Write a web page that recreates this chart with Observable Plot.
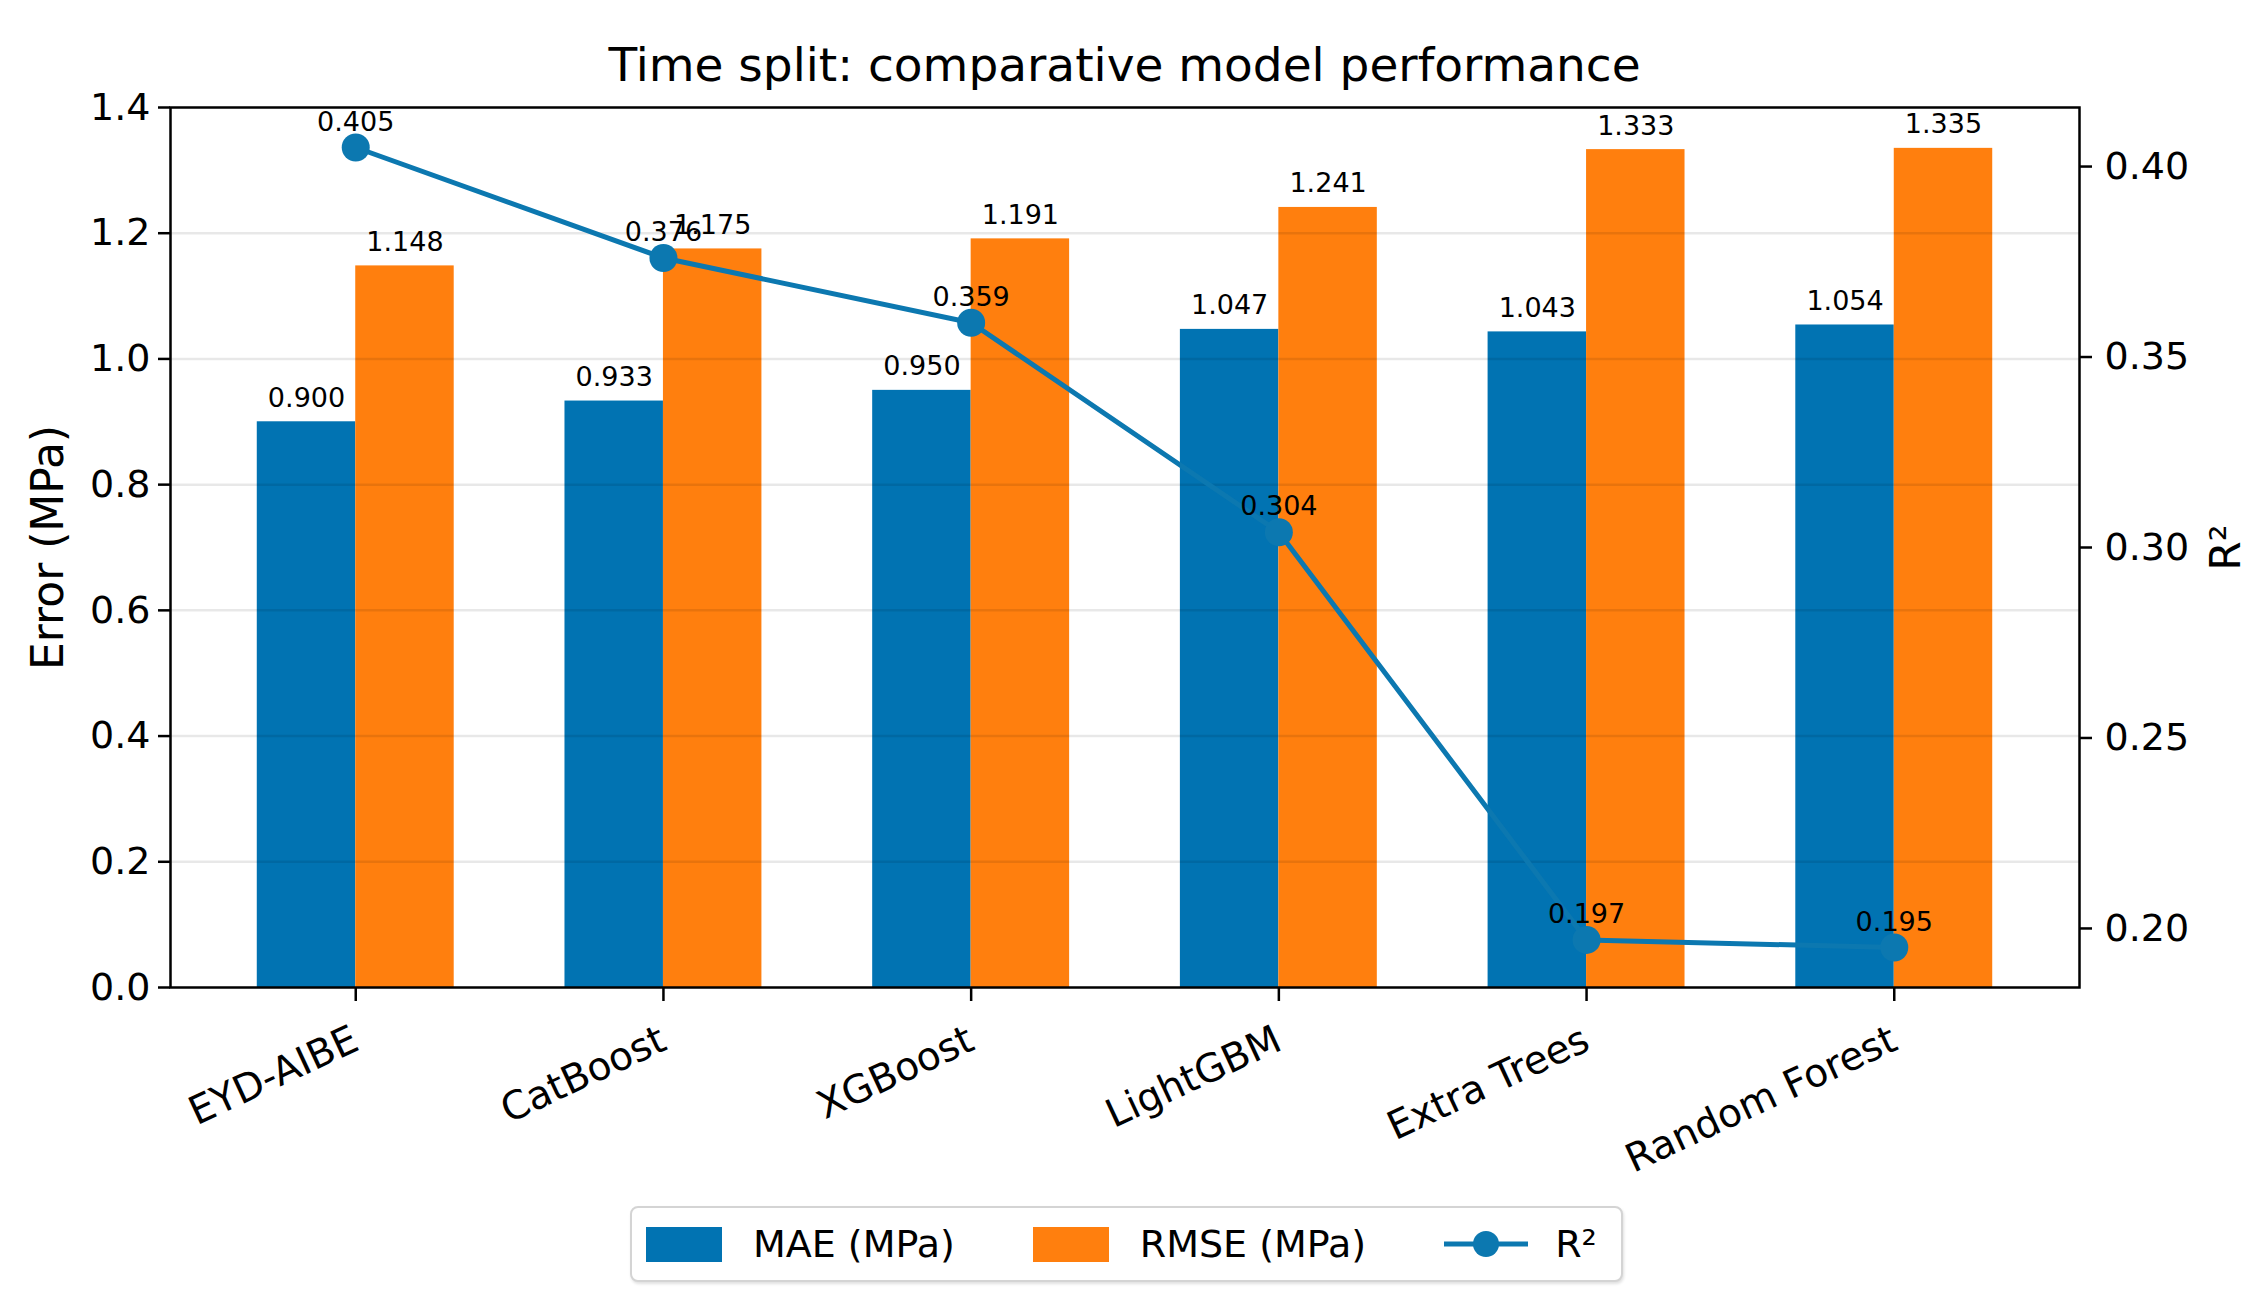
<!DOCTYPE html>
<html>
<head>
<meta charset="utf-8">
<script src="https://cdn.jsdelivr.net/npm/d3@7"></script>
<script src="https://cdn.jsdelivr.net/npm/@observablehq/plot@0.6"></script>
<style>
  html, body { margin: 0; padding: 0; background: #fff; }
  #wrap { position: relative; width: 2262px; height: 1312px; font-family: "DejaVu Sans", sans-serif; color: #000; }
  #title { position: absolute; left: 170px; width: 1909px; top: 41px; font-size: 47px; line-height: 1; text-align: center; white-space: nowrap; }
  #chart { position: absolute; left: 0; top: 90px; }
  #legend { position: absolute; left: 630px; top: 1206px; width: 993px; height: 76px; box-sizing: border-box;
            border: 2px solid #d4d4d4; border-radius: 8px; box-shadow: 1px 2px 3px rgba(0,0,0,0.12);
            display: flex; align-items: center; padding-left: 14px; font-size: 38px; background: #fff; }
  .item { display: flex; align-items: center; }
  .sw { width: 76px; height: 35px; margin-right: 31px; }
  .gap { width: 78px; }
</style>
</head>
<body>
<div id="wrap">
  <div id="title">Time split: comparative model performance</div>
  <div id="chart"></div>
  <div id="legend"></div>
</div>
<script>
// ---- data ----
const models = ["EYD-AIBE", "CatBoost", "XGBoost", "LightGBM", "Extra Trees", "Random Forest"];
const mae = [0.900, 0.933, 0.950, 1.047, 1.043, 1.054];
const rmse = [1.148, 1.175, 1.191, 1.241, 1.333, 1.335];
const r2 = [0.405, 0.376, 0.359, 0.304, 0.197, 0.195];
const errorTicks = [0.0, 0.2, 0.4, 0.6, 0.8, 1.0, 1.2, 1.4];
const r2Ticks = [0.20, 0.25, 0.30, 0.35, 0.40];
const seriesNames = ["MAE (MPa)", "RMSE (MPa)", "R\u00b2"];
const yLabelLeft = "Error (MPa)";

// ---- style ----
const MAE_C = "#0173b2", RMSE_C = "#ff7f0e", LINE_C = "#0c78b0";
const barW = 0.32;
const errDomain = [0, 1.4];
const r2Domain = [0.1845, 0.4155];
const toLeft = r => (r - r2Domain[0]) / (r2Domain[1] - r2Domain[0]) * (errDomain[1] - errDomain[0]) + errDomain[0];
const fromLeft = v => (v - errDomain[0]) / (errDomain[1] - errDomain[0]) * (r2Domain[1] - r2Domain[0]) + r2Domain[0];

const rows = models.map((m, i) => ({i, m, mae: mae[i], rmse: rmse[i], r2: r2[i]}));

const chart = Plot.plot({
  width: 2262, height: 1095,
  marginLeft: 170, marginRight: 183, marginTop: 17, marginBottom: 198,
  style: {fontFamily: "DejaVu Sans", fontSize: "38px", color: "#000", background: "#fff", overflow: "visible"},
  x: {domain: [-0.602, 5.602]},
  y: {domain: errDomain},
  marks: [
    Plot.rectY(rows, {x1: d => d.i - barW, x2: d => d.i, y: "mae", fill: MAE_C}),
    Plot.rectY(rows, {x1: d => d.i, x2: d => d.i + barW, y: "rmse", fill: RMSE_C}),
    Plot.text(rows, {x: d => d.i - barW / 2, y: "mae", text: d => d.mae.toFixed(3), lineAnchor: "bottom", dy: -15, fontSize: 27, fill: "#000"}),
    Plot.text(rows, {x: d => d.i + barW / 2, y: "rmse", text: d => d.rmse.toFixed(3), lineAnchor: "bottom", dy: -15, fontSize: 27, fill: "#000"}),
    Plot.gridY(errorTicks.slice(1, -1), {stroke: "#000", strokeOpacity: 0.09, strokeWidth: 2.5}),
    Plot.line(rows, {x: "i", y: d => toLeft(d.r2), stroke: LINE_C, strokeWidth: 5}),
    Plot.dot(rows, {x: "i", y: d => toLeft(d.r2), r: 14, fill: LINE_C, stroke: null}),
    Plot.text(rows, {x: "i", y: d => toLeft(d.r2), text: d => d.r2.toFixed(3), lineAnchor: "bottom", dy: -17, fontSize: 27, fill: "#000"}),
    Plot.axisY(errorTicks, {anchor: "left", tickSize: 12, tickPadding: 8, strokeWidth: 2.5,
      tickFormat: d3.format(".1f"), label: null, fontSize: 38}),
    Plot.axisY(r2Ticks.map(toLeft), {anchor: "right", tickSize: 12, tickPadding: 13, strokeWidth: 2.5,
      tickFormat: v => fromLeft(v).toFixed(2), label: null, fontSize: 38}),
    Plot.axisX(d3.range(models.length), {anchor: "bottom", tickSize: 14, tickPadding: 36, strokeWidth: 2.5,
      tickFormat: i => models[i], tickRotate: -25, label: null, fontSize: 39}),
    Plot.text([yLabelLeft], {frameAnchor: "left", dx: -122, rotate: -90, text: d => d, fontSize: 44, fill: "#000", lineAnchor: "middle", textAnchor: "middle"}),
    Plot.text([seriesNames[2]], {frameAnchor: "right", dx: 147, rotate: -90, text: d => d, fontSize: 42, fill: "#000", lineAnchor: "middle", textAnchor: "middle"}),
    Plot.frame({stroke: "#000", strokeWidth: 2.5})
  ]
});
document.getElementById("chart").appendChild(chart);

// ---- legend ----
const legend = document.getElementById("legend");
legend.innerHTML = `
  <div class="item"><div class="sw" style="background:${MAE_C}"></div><span>${seriesNames[0]}</span></div>
  <div class="gap"></div>
  <div class="item"><div class="sw" style="background:${RMSE_C}"></div><span>${seriesNames[1]}</span></div>
  <div class="gap"></div>
  <div class="item"><svg width="84" height="36" style="margin-right:27px"><line x1="0" y1="18" x2="84" y2="18" stroke="${LINE_C}" stroke-width="5"/><circle cx="42" cy="18" r="13" fill="${LINE_C}"/></svg><span>${seriesNames[2]}</span></div>
`;
</script>
</body>
</html>
